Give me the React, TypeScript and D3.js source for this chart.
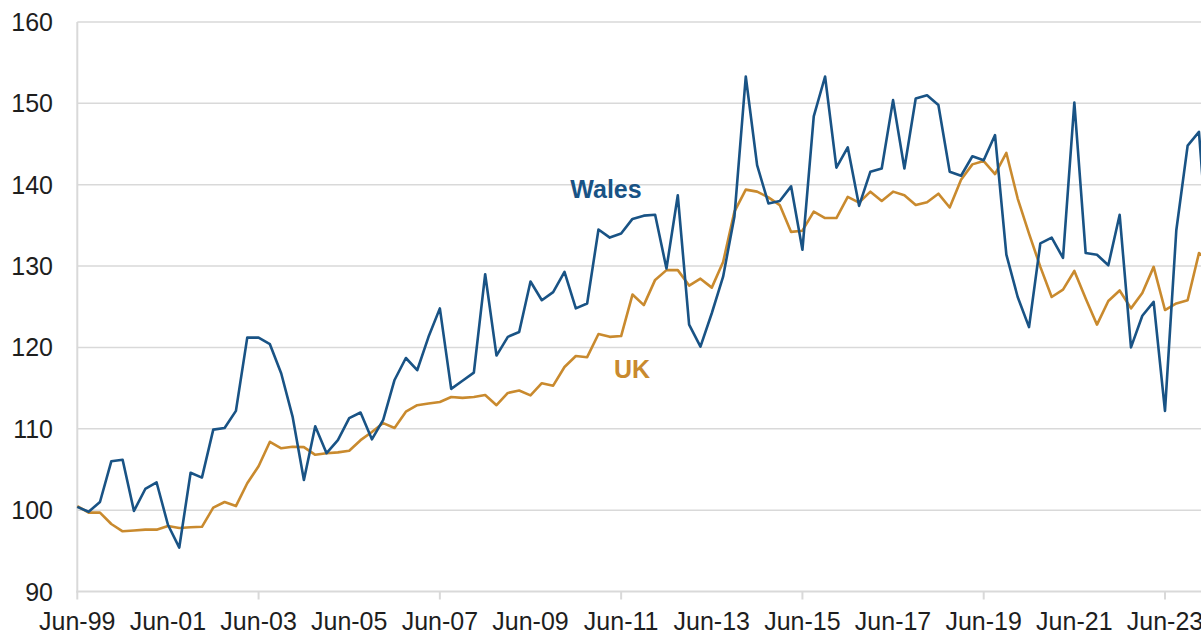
import * as React from 'react'
import * as d3 from 'd3'

const WIDTH = 1201
const HEIGHT = 634
const X_LEFT = 77.3
const STEP = 11.33
const Y_TOP = 22
const Y_BOTTOM = 591.5

const MONTHS = ['Jun', 'Sep', 'Dec', 'Mar']
const FIRST_YEAR = 1999
const QUARTER_COUNT = 101

// quarterly labels, Jun-99 .. Jun-24
const categories: string[] = d3.range(QUARTER_COUNT).map(i => {
  const year = FIRST_YEAR + Math.floor((i + 1) / 4)
  return `${MONTHS[i % 4]}-${String(year % 100).padStart(2, '0')}`
})

const walesValues = [
  100.4, 99.8, 101.0, 106.0, 106.2, 99.9, 102.6, 103.4, 98.2, 95.4,
  104.6, 104.0, 109.9, 110.1, 112.2, 121.2, 121.2, 120.4, 116.8, 111.5,
  103.7, 110.3, 107.0, 108.6, 111.3, 112.0, 108.7, 111.1, 116.0, 118.7,
  117.2, 121.3, 124.8, 114.9, 115.9, 116.9, 129.0, 119.0, 121.3, 121.9,
  128.1, 125.8, 126.8, 129.3, 124.8, 125.4, 134.5, 133.5, 134.0, 135.8,
  136.2, 136.3, 129.7, 138.7, 122.8, 120.1, 124.2, 128.7, 136.1, 153.3,
  142.4, 137.7, 138.0, 139.8, 132.0, 148.4, 153.3, 142.1, 144.6, 137.4,
  141.6, 142.0, 150.4, 142.0, 150.6, 151.0, 149.8, 141.6, 141.1, 143.5,
  143.0, 146.1, 131.4, 126.2, 122.5, 132.8, 133.5, 131.0, 150.1, 131.6,
  131.4, 130.1, 136.3, 120.0, 123.9, 125.6, 112.2, 134.4, 144.8, 146.5,
  128.0
]

const ukValues = [
  100.5, 99.7, 99.7, 98.3, 97.4, 97.5, 97.6, 97.6, 98.05, 97.8,
  97.9, 97.95, 100.3, 101.0, 100.5, 103.3, 105.4, 108.4, 107.6, 107.8,
  107.75, 106.8, 107.0, 107.1, 107.3, 108.6, 109.6, 110.7, 110.1, 112.1,
  112.9, 113.1, 113.3, 113.9, 113.8, 113.9, 114.15, 112.9, 114.4, 114.7,
  114.1, 115.6, 115.3, 117.6, 118.95, 118.8, 121.65, 121.3, 121.4, 126.5,
  125.2, 128.3, 129.5, 129.5, 127.6, 128.45, 127.35, 130.5, 136.7, 139.4,
  139.15, 138.45, 137.5, 134.2, 134.35, 136.7, 135.9, 135.9, 138.5, 137.8,
  139.15, 138.0, 139.15, 138.7, 137.5, 137.85, 138.9, 137.2, 140.6, 142.5,
  142.9, 141.3, 143.9, 138.3, 134.0, 129.9, 126.2, 127.1, 129.4, 126.0,
  122.8, 125.7, 127.0, 124.8, 126.7, 129.9, 124.6, 125.4, 125.8, 131.6,
  130.5
]

const yTicks = [90, 100, 110, 120, 130, 140, 150, 160]
const xLabels = ['Jun-99', 'Jun-01', 'Jun-03', 'Jun-05', 'Jun-07', 'Jun-09', 'Jun-11',
  'Jun-13', 'Jun-15', 'Jun-17', 'Jun-19', 'Jun-21', 'Jun-23']
const xTickMarks = ['Jun-99', 'Jun-03', 'Jun-07', 'Jun-11', 'Jun-15', 'Jun-19', 'Jun-23']

const WALES_COLOR = '#195385'
const UK_COLOR = '#c98a2e'
const GRID_COLOR = '#d9d9d9'
const FONT = '"Liberation Sans", Arial, sans-serif'

export default function App() {
  const x = d3
    .scalePoint<string>()
    .domain(categories)
    .range([X_LEFT, X_LEFT + STEP * (QUARTER_COUNT - 1)])
  const y = d3.scaleLinear().domain([90, 160]).range([Y_BOTTOM, Y_TOP])

  const line = d3
    .line<number>()
    .x((_, i) => x(categories[i]) as number)
    .y(d => y(d))

  return (
    <svg
      width={WIDTH}
      height={HEIGHT}
      style={{ position: 'absolute', left: 0, top: 0, background: '#fff' }}
      fontFamily={FONT}
    >
      <defs>
        <clipPath id="plot-clip">
          <rect x={0} y={0} width={WIDTH} height={HEIGHT} />
        </clipPath>
      </defs>
      {yTicks.map(t => (
        <g key={t}>
          {t > 90 && (
            <line
              x1={X_LEFT}
              x2={WIDTH}
              y1={y(t)}
              y2={y(t)}
              stroke={GRID_COLOR}
              strokeWidth={1.5}
            />
          )}
          <text
            x={53}
            y={y(t)}
            dy="0.36em"
            textAnchor="end"
            fontSize={25}
            fill="#1e1e1e"
          >
            {t}
          </text>
        </g>
      ))}
      <line x1={X_LEFT} x2={X_LEFT} y1={Y_TOP} y2={Y_BOTTOM + 1} stroke={GRID_COLOR} strokeWidth={2} />
      <line x1={X_LEFT - 1} x2={WIDTH} y1={Y_BOTTOM} y2={Y_BOTTOM} stroke={GRID_COLOR} strokeWidth={2} />
      {xTickMarks.map(c => (
        <line
          key={c}
          x1={x(c)}
          x2={x(c)}
          y1={Y_BOTTOM}
          y2={Y_BOTTOM + 8}
          stroke={GRID_COLOR}
          strokeWidth={2}
        />
      ))}
      {xLabels.map(c => (
        <text key={c} x={x(c)} y={630} textAnchor="middle" fontSize={25} fill="#1e1e1e">
          {c}
        </text>
      ))}
      <g clipPath="url(#plot-clip)" fill="none" strokeWidth={2.6} strokeLinejoin="round">
        <path d={line(ukValues) ?? ''} stroke={UK_COLOR} />
        <path d={line(walesValues) ?? ''} stroke={WALES_COLOR} />
      </g>
      <text x={606} y={198} textAnchor="middle" fontSize={25} fontWeight="bold" fill={WALES_COLOR}>
        Wales
      </text>
      <text x={632} y={378} textAnchor="middle" fontSize={25} fontWeight="bold" fill={UK_COLOR}>
        UK
      </text>
    </svg>
  )
}
